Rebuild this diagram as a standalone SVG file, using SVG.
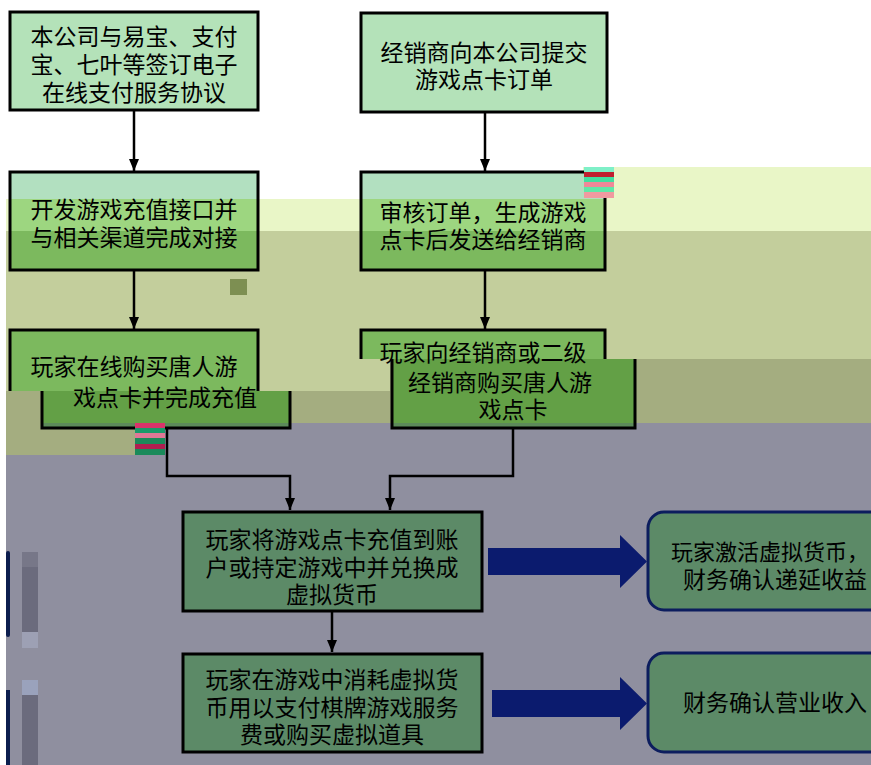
<svg xmlns="http://www.w3.org/2000/svg" width="871" height="765" viewBox="0 0 871 765">
<style>
.t{font-family:"Liberation Sans","Noto Sans CJK SC",sans-serif;font-size:23px;fill:#000;text-anchor:middle;dominant-baseline:central}
.box{fill:#b4e2b9;stroke:#000;stroke-width:3}
.bl{fill:url(#gL);stroke:#000;stroke-width:3}
.br{fill:url(#gR);stroke:#000;stroke-width:3}
.edge{fill:none;stroke:#000;stroke-width:3}
.con{fill:none;stroke:#000;stroke-width:2.5}
.gbox{fill:#5c8a67;stroke:#000;stroke-width:3}
.rbox{fill:#5c8a67;stroke:#0c1d5e;stroke-width:3}
.navy{fill:#0b1b6e}
</style>
<defs>
<marker id="ah" markerUnits="userSpaceOnUse" markerWidth="12" markerHeight="10" refX="12" refY="5" orient="auto">
<path d="M0,0 L12,5 L0,10 Z" fill="#000"/>
</marker>
<linearGradient id="gL" gradientUnits="userSpaceOnUse" x1="0" y1="0" x2="0" y2="765">
<stop offset="0" stop-color="#b2e0c0"/>
<stop offset="0.2601" stop-color="#b2e0c0"/>
<stop offset="0.2601" stop-color="#9dd680"/>
<stop offset="0.30196" stop-color="#9dd680"/>
<stop offset="0.30196" stop-color="#7cb95e"/>
<stop offset="0.5111" stop-color="#7cb95e"/>
<stop offset="0.5111" stop-color="#63a046"/>
<stop offset="0.55294" stop-color="#63a046"/>
<stop offset="0.55294" stop-color="#5c8a5a"/>
<stop offset="1" stop-color="#5c8a5a"/>
</linearGradient>
<linearGradient id="gR" gradientUnits="userSpaceOnUse" x1="0" y1="0" x2="0" y2="765">
<stop offset="0" stop-color="#b2e0c0"/>
<stop offset="0.2601" stop-color="#b2e0c0"/>
<stop offset="0.2601" stop-color="#9dd680"/>
<stop offset="0.30196" stop-color="#9dd680"/>
<stop offset="0.30196" stop-color="#7cb95e"/>
<stop offset="0.46928" stop-color="#7cb95e"/>
<stop offset="0.46928" stop-color="#63a046"/>
<stop offset="0.55294" stop-color="#63a046"/>
<stop offset="0.55294" stop-color="#5c8a5a"/>
<stop offset="1" stop-color="#5c8a5a"/>
</linearGradient>
</defs>
<rect x="0" y="0" width="871" height="765" fill="#fff"/>

<g id="bands">
<rect x="6" y="199" width="865" height="32" fill="#e9f6c7"/>
<rect x="583" y="167" width="288" height="32" fill="#e9f6c7"/>
<rect x="6" y="231" width="865" height="128" fill="#c3ce9c"/>
<rect x="6" y="359" width="384" height="32" fill="#c3ce9c"/>
<rect x="390" y="359" width="481" height="64" fill="#a4ad80"/>
<rect x="6" y="391" width="384" height="32" fill="#a4ad80"/>
<rect x="6" y="423" width="159" height="32" fill="#a4ad80"/>
<rect x="165" y="423" width="706" height="342" fill="#8f8f9f"/>
<rect x="6" y="455" width="159" height="310" fill="#8f8f9f"/>
</g>

<g id="connectors">
<path class="con" d="M134,110 V171" marker-end="url(#ah)"/>
<path class="con" d="M485,112 V171" marker-end="url(#ah)"/>
<path class="con" d="M134,270 V329" marker-end="url(#ah)"/>
<path class="con" d="M485,270 V329" marker-end="url(#ah)"/>
<path class="con" d="M167,428 V476 H290 V510" marker-end="url(#ah)"/>
<path class="con" d="M513,428 V476 H390 V510" marker-end="url(#ah)"/>
<path class="con" d="M332,611 V652" marker-end="url(#ah)"/>
</g>

<g id="nodeA">
<rect class="box" x="10" y="12" width="248" height="98"/>
<text class="t" x="134" y="37">本公司与易宝、支付</text>
<text class="t" x="134" y="65">宝、七叶等签订电子</text>
<text class="t" x="134" y="93">在线支付服务协议</text>
</g>
<g id="nodeB">
<rect class="box" x="361" y="13" width="246" height="99"/>
<text class="t" x="484" y="53">经销商向本公司提交</text>
<text class="t" x="484" y="80">游戏点卡订单</text>
</g>
<g id="nodeC">
<rect class="bl" x="10" y="172" width="248" height="98"/>
<text class="t" x="134" y="210">开发游戏充值接口并</text>
<text class="t" x="134" y="238">与相关渠道完成对接</text>
</g>
<g id="nodeD">
<rect class="br" x="361" y="172" width="244" height="98"/>
<text class="t" x="483" y="213">审核订单，生成游戏</text>
<text class="t" x="483" y="240">点卡后发送给经销商</text>
</g>
<g id="nodeE">
<rect x="10" y="330" width="248" height="61" fill="url(#gL)"/>
<rect x="42" y="391" width="248" height="37" fill="url(#gL)"/>
<path class="edge" d="M10,391 V330 H258 V391 M42,391 V428 H290 V391"/>
<text class="t" x="134" y="367">玩家在线购买唐人游</text>
<text class="t" x="165" y="398">戏点卡并完成充值</text>
</g>
<g id="nodeF">
<rect x="361" y="330" width="244" height="29" fill="url(#gR)"/>
<rect x="392" y="359" width="243" height="69" fill="url(#gR)"/>
<path class="edge" d="M361,359 V330 H605 V359 M392,359 V428 H635 V359"/>
<text class="t" x="483" y="353">玩家向经销商或二级</text>
<text class="t" x="500" y="383">经销商购买唐人游</text>
<text class="t" x="513" y="410">戏点卡</text>
</g>

<g id="artifacts">
<rect x="230" y="279" width="17" height="16" fill="#7d8f52"/>
<rect x="135" y="423" width="30" height="5" fill="#d9346a"/>
<rect x="135" y="428" width="30" height="5" fill="#1a9a6a"/>
<rect x="135" y="433" width="30" height="5" fill="#e07896"/>
<rect x="135" y="438" width="30" height="6" fill="#1a8a5a"/>
<rect x="135" y="444" width="30" height="5" fill="#b01e50"/>
<rect x="135" y="449" width="30" height="6" fill="#1a8a5a"/>
<rect x="584" y="167" width="30" height="5" fill="#7ff0c8"/>
<rect x="584" y="172" width="30" height="5" fill="#c02030"/>
<rect x="584" y="177" width="30" height="5" fill="#40e0a0"/>
<rect x="584" y="182" width="30" height="5" fill="#f08898"/>
<rect x="584" y="187" width="30" height="5" fill="#60e8a8"/>
<rect x="584" y="192" width="30" height="6" fill="#f09aa0"/>
<rect x="6" y="551" width="4" height="86" rx="2" fill="#0c1d4e"/>
<rect x="6" y="690" width="4" height="75" fill="#0c1d4e"/>
<rect x="22" y="552" width="16" height="15" fill="#777788"/>
<rect x="22" y="567" width="16" height="65" fill="#6b6b7d"/>
<rect x="22" y="632" width="16" height="16" fill="#9da0b4"/>
<rect x="22" y="680" width="16" height="15" fill="#9aa2bc"/>
<rect x="22" y="695" width="16" height="70" fill="#6b6b7d"/>
</g>

<g id="nodeG">
<rect class="gbox" x="183" y="512" width="299" height="99"/>
<text class="t" x="332" y="540">玩家将游戏点卡充值到账</text>
<text class="t" x="332" y="568">户或持定游戏中并兑换成</text>
<text class="t" x="332" y="595">虚拟货币</text>
</g>
<g id="nodeH">
<rect class="gbox" x="183" y="654" width="299" height="98"/>
<text class="t" x="332" y="680">玩家在游戏中消耗虚拟货</text>
<text class="t" x="332" y="708">币用以支付棋牌游戏服务</text>
<text class="t" x="332" y="735">费或购买虚拟道具</text>
</g>
<g id="arrowsBig">
<path class="navy" d="M488,548 H620 V535 L647,561.5 L620,588 V575 H488 Z"/>
<path class="navy" d="M492,690 H620 V677 L647,703.5 L620,730 V717 H492 Z"/>
</g>
<g id="nodeI">
<rect class="rbox" x="648" y="512" width="260" height="98" rx="16"/>
<text class="t" x="770" y="552" style="font-size:22px">玩家激活虚拟货币，</text>
<text class="t" x="775" y="580">财务确认递延收益</text>
</g>
<g id="nodeJ">
<rect class="rbox" x="648" y="653" width="260" height="99" rx="16"/>
<text class="t" x="775" y="703">财务确认营业收入</text>
</g>
</svg>
